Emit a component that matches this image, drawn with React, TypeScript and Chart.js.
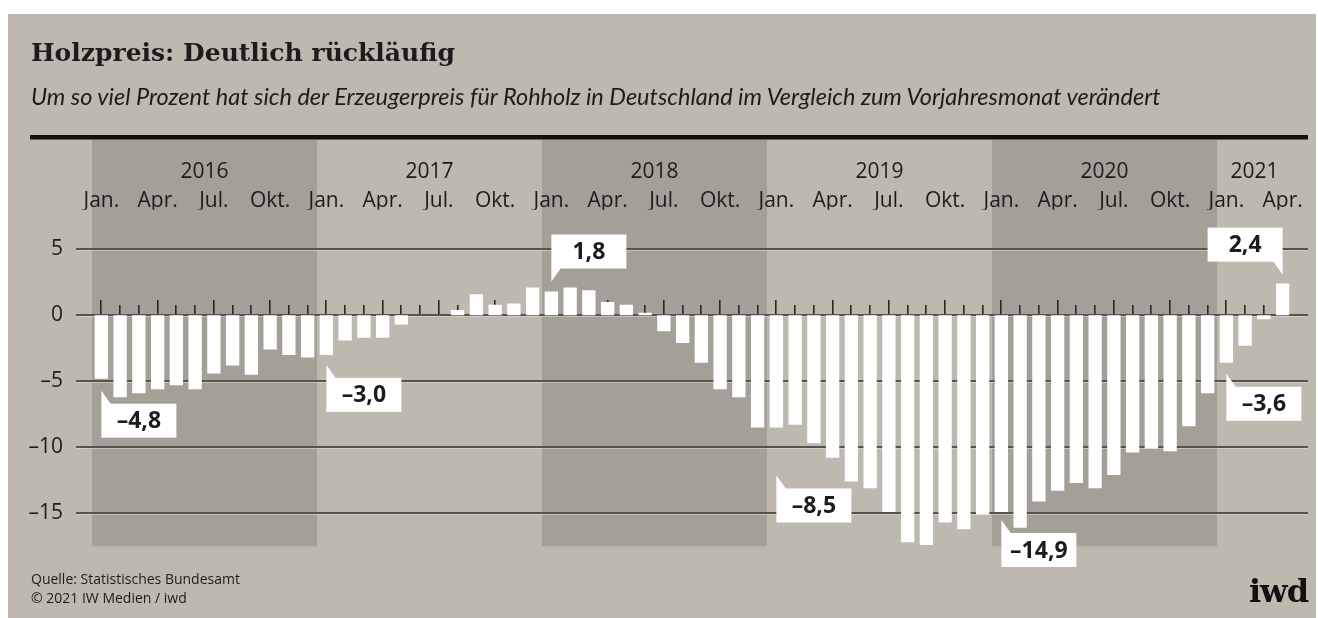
import React, { useEffect, useRef } from 'react';
import { Chart, registerables } from 'chart.js';

Chart.register(...registerables);

// ---------- data ----------
const YEARS = ['2016', '2017', '2018', '2019', '2020', '2021'];
const MONTHS = ['Jan.', 'Feb.', 'Mär.', 'Apr.', 'Mai', 'Jun.', 'Jul.', 'Aug.', 'Sep.', 'Okt.', 'Nov.', 'Dez.'];
const MONTH_TICKS = ['Jan.', 'Apr.', 'Jul.', 'Okt.'];

const VALUES_2016 = [-4.8, -6.2, -5.9, -5.6, -5.3, -5.6, -4.4, -3.8, -4.5, -2.6, -3.0, -3.2];
const VALUES_2017 = [-3.0, -1.9, -1.7, -1.7, -0.7, 0.0, 0.0, 0.4, 1.6, 0.8, 0.9, 2.1];
const VALUES_2018 = [1.8, 2.1, 1.9, 1.0, 0.8, 0.2, -1.2, -2.1, -3.6, -5.6, -6.2, -8.5];
const VALUES_2019 = [-8.5, -8.3, -9.7, -10.8, -12.6, -13.1, -14.9, -17.2, -17.4, -15.7, -16.2, -15.1];
const VALUES_2020 = [-14.9, -16.1, -14.1, -13.3, -12.7, -13.1, -12.1, -10.4, -10.1, -10.3, -8.4, -5.9];
const VALUES_2021 = [-3.6, -2.3, -0.3, 2.4];

const YEAR_SERIES = [VALUES_2016, VALUES_2017, VALUES_2018, VALUES_2019, VALUES_2020, VALUES_2021];
const VALUES: number[] = YEAR_SERIES.flat();
const CATEGORIES: string[] = YEAR_SERIES.flatMap((arr, yi) => arr.map((_, mi) => `${MONTHS[mi]} ${YEARS[yi]}`));

const Y_MIN = -17.5;
const Y_MAX = 8;
const Y_STEP = 5;

// highlighted values (indices into VALUES)
const CALLOUT_INDEX = [0, 12, 24, 36, 48, 60, 63];

// ---------- layout / style ----------
const W = 1318;
const H = 618;
const PANEL_BG = '#bdb9ae';
const BAND_BG = '#a4a098';
const TEXT = '#1c1c1c';
const GRID = '#57544d';
const CALLOUT_GAP = [12, 10, 10, 48, 8, 11, 9];
const CALLOUT_FLIP = [false, false, false, false, false, false, true];
const AXIS_FONT = '"Open Sans", "DejaVu Sans", sans-serif';

const fmt = (v: number) => (v < 0 ? '\u2013' : '') + Math.abs(v).toFixed(1).replace('.', ',');

const decorPlugin = {
  id: 'decor',
  beforeDraw(chart: any) {
    const { ctx, chartArea } = chart;
    const x = chart.scales.x;
    const y = chart.scales.y;
    const step = x.getPixelForValue(1) - x.getPixelForValue(0);
    ctx.save();
    // year bands
    YEARS.forEach((yr, yi) => {
      const start = yi * 12;
      const end = Math.min(start + 11, VALUES.length - 1);
      const x0 = x.getPixelForValue(start) - step / 2;
      const x1 = x.getPixelForValue(end) + step / 2;
      if (yi % 2 === 0) {
        ctx.fillStyle = BAND_BG;
        ctx.fillRect(x0, 139.5, x1 - x0, chartArea.bottom - 139.5);
      }
    });
    // year labels
    YEARS.forEach((yr, yi) => {
      const start = yi * 12;
      const end = Math.min(start + 11, VALUES.length - 1);
      const cx = (x.getPixelForValue(start) + x.getPixelForValue(end)) / 2;
      ctx.fillStyle = TEXT;
      ctx.font = `21px ${AXIS_FONT}`;
      ctx.textAlign = 'center';
      ctx.textBaseline = 'middle';
      ctx.fillText(yr, cx, 172);
    });
    // thick header rule
    ctx.fillStyle = '#111111';
    ctx.fillRect(30, 135, 1278, 4.5);
    // grid lines
    y.ticks.forEach((t: any) => {
      const py = Math.round(y.getPixelForValue(t.value));
      ctx.fillStyle = GRID;
      ctx.fillRect(76, py - 1, 1232, 2);
      ctx.fillStyle = 'rgba(225,222,212,0.55)';
      ctx.fillRect(76, py + 1, 1232, 1);
    });
    // month tick marks on zero line
    const zy = Math.round(y.getPixelForValue(0)) - 1;
    ctx.fillStyle = '#2a2825';
    VALUES.forEach((_, i) => {
      const px = x.getPixelForValue(i);
      const len = i % 3 === 0 ? 14 : 9;
      ctx.fillRect(Math.round(px) - 1, zy - len, 1.6, len);
    });
    ctx.restore();
  },
  afterDatasetsDraw(chart: any) {
    const { ctx } = chart;
    const meta = chart.getDatasetMeta(0);
    ctx.save();
    CALLOUT_INDEX.forEach((idx, k) => {
      const el = meta.data[idx];
      const v = VALUES[idx];
      const bx = el.x;
      const gap = CALLOUT_GAP[k];
      const flip = CALLOUT_FLIP[k];
      const bw = 75;
      const bh = 34;
      const ph = 13;
      const pw = 10;
      const dir = flip ? -1 : 1;
      let tipY: number, boxTop: number, baseY: number;
      if (v < 0) {
        tipY = el.y + gap;
        baseY = tipY + ph;
        boxTop = baseY;
      } else {
        tipY = el.y - gap;
        baseY = tipY - ph;
        boxTop = baseY - bh;
      }
      const boxLeft = flip ? bx - bw : bx;
      ctx.fillStyle = '#ffffff';
      ctx.fillRect(boxLeft, boxTop, bw, bh);
      ctx.beginPath();
      ctx.moveTo(bx, tipY);
      ctx.lineTo(bx, baseY + (v < 0 ? 1 : -1));
      ctx.lineTo(bx + dir * pw, baseY + (v < 0 ? 1 : -1));
      ctx.closePath();
      ctx.fill();
      ctx.fillStyle = TEXT;
      ctx.font = `bold 23px ${AXIS_FONT}`;
      ctx.textAlign = 'center';
      ctx.textBaseline = 'middle';
      ctx.fillText(fmt(v), boxLeft + bw / 2, boxTop + bh / 2 + 1);
    });
    ctx.restore();
  },
};

export default function App() {
  const ref = useRef<HTMLCanvasElement | null>(null);

  useEffect(() => {
    if (!ref.current) return;
    const chart = new Chart(ref.current, {
      type: 'bar',
      data: {
        labels: CATEGORIES,
        datasets: [
          {
            data: VALUES,
            backgroundColor: '#ffffff',
            borderWidth: 0,
            barPercentage: 0.71,
            categoryPercentage: 1,
          },
        ],
      },
      plugins: [decorPlugin],
      options: {
        responsive: false,
        animation: false,
        devicePixelRatio: 1,
        layout: { padding: { left: 20, right: 26, top: 180, bottom: 71.7 } },
        plugins: { legend: { display: false }, tooltip: { enabled: false }, title: { display: false } },
        scales: {
          x: {
            position: 'top',
            grid: { display: false, drawTicks: false },
            border: { display: false },
            ticks: {
              autoSkip: false,
              maxRotation: 0,
              minRotation: 0,
              padding: 0,
              color: TEXT,
              font: { family: AXIS_FONT, size: 21, lineHeight: 0.8 },
              callback: (_v: any, i: number) => (i % 3 === 0 ? MONTH_TICKS[(i % 12) / 3] : ''),
            },
            afterFit: (s: any) => {
              s.height = 29.7;
            },
          },
          y: {
            min: Y_MIN,
            max: Y_MAX,
            grid: { display: false, drawTicks: false },
            border: { display: false },
            ticks: {
              stepSize: Y_STEP,
              includeBounds: false,
              padding: 29,
              color: TEXT,
              font: { family: AXIS_FONT, size: 21 },
              callback: (v: any) => fmt(Number(v)).replace(',0', ''),
            },
            afterFit: (s: any) => {
              s.width = 72;
            },
          },
        },
      },
    });
    return () => chart.destroy();
  }, []);

  return (
    <div style={{ position: 'absolute', left: 0, top: 0, width: W, height: H, background: '#ffffff', overflow: 'hidden' }}>
      <div style={{ position: 'absolute', left: 8, top: 14, width: 1308, height: H - 14, background: PANEL_BG }} />
      <canvas ref={ref} width={W} height={H} style={{ position: 'absolute', left: 0, top: 0, width: W, height: H }} />
      <div
        style={{
          position: 'absolute',
          left: 31,
          top: 40.3,
          fontFamily: '"DejaVu Serif", serif',
          fontWeight: 'bold',
          fontSize: 25,
          lineHeight: '25px',
          color: TEXT,
          whiteSpace: 'nowrap',
        }}
      >
        Holzpreis: Deutlich rückläufig
      </div>
      <div
        style={{
          position: 'absolute',
          left: 31,
          top: 85,
          fontFamily: 'Lato, "Open Sans", sans-serif',
          fontStyle: 'italic',
          fontSize: 23.5,
          lineHeight: '23.5px',
          color: TEXT,
          whiteSpace: 'nowrap',
        }}
      >
        Um so viel Prozent hat sich der Erzeugerpreis für Rohholz in Deutschland im Vergleich zum Vorjahresmonat verändert
      </div>
      <div
        style={{
          position: 'absolute',
          left: 31,
          top: 569,
          fontFamily: '"Open Sans", sans-serif',
          fontSize: 14,
          lineHeight: '19px',
          color: TEXT,
          whiteSpace: 'nowrap',
        }}
      >
        <div>Quelle: Statistisches Bundesamt</div>
        <div>© 2021 IW Medien / iwd</div>
      </div>
      <div
        style={{
          position: 'absolute',
          right: 10,
          top: 574.6,
          fontFamily: '"DejaVu Serif", serif',
          fontWeight: 'bold',
          fontSize: 32,
          lineHeight: '32px',
          color: '#111',
          whiteSpace: 'nowrap',
          letterSpacing: -1,
        }}
      >
        iwd
      </div>
    </div>
  );
}
